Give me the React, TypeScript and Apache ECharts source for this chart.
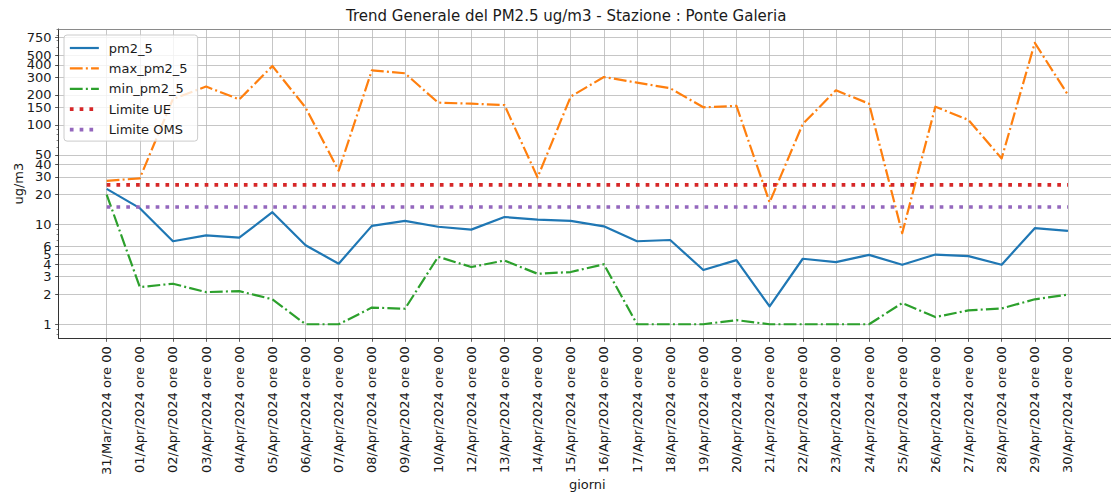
import React, { useEffect, useRef } from "react";
import * as echarts from "echarts";

const days = [
  "31/Mar/2024 ore 00", "01/Apr/2024 ore 00", "02/Apr/2024 ore 00", "03/Apr/2024 ore 00",
  "04/Apr/2024 ore 00", "05/Apr/2024 ore 00", "06/Apr/2024 ore 00", "07/Apr/2024 ore 00",
  "08/Apr/2024 ore 00", "09/Apr/2024 ore 00", "10/Apr/2024 ore 00", "12/Apr/2024 ore 00",
  "13/Apr/2024 ore 00", "14/Apr/2024 ore 00", "15/Apr/2024 ore 00", "16/Apr/2024 ore 00",
  "17/Apr/2024 ore 00", "18/Apr/2024 ore 00", "19/Apr/2024 ore 00", "20/Apr/2024 ore 00",
  "21/Apr/2024 ore 00", "22/Apr/2024 ore 00", "23/Apr/2024 ore 00", "24/Apr/2024 ore 00",
  "25/Apr/2024 ore 00", "26/Apr/2024 ore 00", "27/Apr/2024 ore 00", "28/Apr/2024 ore 00",
  "29/Apr/2024 ore 00", "30/Apr/2024 ore 00",
];

const pm25 = [
  22.8, 14.6, 6.8, 7.8, 7.4, 13.3, 6.2, 4.05, 9.7, 10.9, 9.5,
  8.9, 11.9, 11.2, 10.9, 9.6,
  6.8, 7.0, 3.5, 4.4, 1.51, 4.54, 4.2, 4.97, 3.95, 5.0, 4.82, 3.95, 9.2, 8.65,
];

const maxPm25 = [
  27.4, 29.1, 182, 242, 180, 389, 149, 34.7, 352, 329, 167,
  163, 158, 29.7, 192, 302,
  265, 233, 150, 155, 16.7, 102, 222, 163, 8.2, 152, 112, 46, 665, 200,
];

const minPm25 = [
  20, 2.36, 2.55, 2.1, 2.15, 1.78, 1.0, 1.0, 1.47, 1.43, 4.75,
  3.75, 4.36, 3.21, 3.34, 4.0,
  1.0, 1.0, 1.0, 1.1, 1.0, 1.0, 1.0, 1.0, 1.63, 1.18, 1.38, 1.44, 1.78, 1.98,
];

const limiteUE = [
  25, 25, 25, 25, 25, 25, 25, 25, 25, 25, 25, 25, 25, 25, 25,
  25, 25, 25, 25, 25, 25, 25, 25, 25, 25, 25, 25, 25, 25, 25,
];

const limiteOMS = [
  15, 15, 15, 15, 15, 15, 15, 15, 15, 15, 15, 15, 15, 15, 15,
  15, 15, 15, 15, 15, 15, 15, 15, 15, 15, 15, 15, 15, 15, 15,
];

const yTickValues = [1, 2, 3, 4, 5, 6, 10, 20, 30, 40, 50, 100, 150, 200, 300, 400, 500, 750];
const yMinorTicks = [
  0.8, 0.9, 2, 3, 4, 5, 6, 7, 8, 9, 20, 30, 40, 50, 60, 70, 80, 90,
  200, 300, 400, 500, 600, 700, 800, 900,
];

const Y_MIN = 0.723;
const Y_MAX = 915;
const X_MIN = -1.45;
const X_MAX = 30.45;

const FONT = "DejaVu Sans";
const TXT = "#1a1a1a";
const GRID_C = "#b8b8b8";
const SPINE = "#333333";

export default function App() {
  const ref = useRef<HTMLDivElement>(null);

  useEffect(() => {
    if (!ref.current) return;
    const chart = echarts.init(ref.current, undefined, { renderer: "svg" });

    const lg = (v: number) => Math.log10(v);
    const idx = days.map((_, i) => i);

    const mk = (name: string, data: number[], color: string, width: number, dash: any) => ({
      type: "line",
      name,
      data: data.map((v, i) => [i, v]),
      xAxisIndex: 0,
      yAxisIndex: 0,
      symbol: "none",
      showSymbol: false,
      silent: true,
      lineStyle: { color, width, type: dash, cap: "butt", join: "round" },
      itemStyle: { color },
    });

    const option: any = {
      animation: false,
      backgroundColor: "#ffffff",
      textStyle: { fontFamily: FONT },
      title: {
        text: "Trend Generale del PM2.5 ug/m3 - Stazione : Ponte Galeria",
        left: 346,
        top: 8,
        padding: 0,
        textStyle: { fontFamily: FONT, fontSize: 15, fontWeight: "normal", color: TXT },
      },
      legend: {
        orient: "vertical",
        left: 64,
        top: 35,
        padding: [6.5, 10, 5, 4],
        itemWidth: 29,
        itemHeight: 10,
        itemGap: 7.4,
        backgroundColor: "rgba(255,255,255,0.8)",
        borderColor: "#cccccc",
        borderWidth: 1,
        borderRadius: 3,
        itemStyle: { opacity: 0 },
        lineStyle: { width: "inherit" },
        textStyle: { fontFamily: FONT, fontSize: 13, color: TXT, padding: [0, 0, 0, 5] },
        data: ["pm2_5", "max_pm2_5", "min_pm2_5", "Limite UE", "Limite OMS"],
      },
      grid: {
        left: 58.6,
        top: 29,
        width: 1057.4,
        height: 309.3,
        containLabel: false,
        outerBoundsMode: "none",
      },
      xAxis: [
        {
          type: "value",
          position: "bottom",
          min: X_MIN,
          max: X_MAX,
          name: "giorni",
          nameLocation: "middle",
          nameGap: 140,
          nameMoveOverlap: false,
          nameTextStyle: { fontFamily: FONT, fontSize: 13, color: TXT },
          axisLine: { show: true, onZero: false, lineStyle: { color: SPINE, width: 1 } },
          axisTick: { show: true, inside: false, length: 3.5, customValues: idx, lineStyle: { color: SPINE, width: 0.8 } },
          axisLabel: {
            customValues: idx,
            rotate: 90,
            margin: 8,
            fontFamily: FONT,
            fontSize: 13,
            color: TXT,
            formatter: (v: number) => days[Math.round(v)] ?? "",
          },
          splitLine: { show: true, lineStyle: { color: GRID_C, width: 0.8 } },
        },
        {
          type: "value",
          position: "top",
          min: X_MIN,
          max: X_MAX,
          axisLine: { show: true, onZero: false, lineStyle: { color: "#8a8a8a", width: 1 } },
          axisTick: { show: false },
          axisLabel: { show: false },
          splitLine: { show: false },
        },
      ],
      yAxis: [
        {
          type: "log",
          logBase: 10,
          min: Y_MIN,
          max: Y_MAX,
          show: false,
          axisLine: { onZero: false },
          splitLine: { show: false },
        },
        {
          type: "value",
          position: "left",
          min: lg(Y_MIN),
          max: lg(Y_MAX),
          name: "ug/m3",
          nameLocation: "middle",
          nameGap: 34,
          nameMoveOverlap: false,
          nameTextStyle: { fontFamily: FONT, fontSize: 13, color: TXT },
          axisLine: { show: true, onZero: false, lineStyle: { color: SPINE, width: 1 } },
          axisTick: { show: true, length: 3.5, customValues: yTickValues.map(lg), lineStyle: { color: SPINE, width: 0.8 } },
          axisLabel: {
            customValues: yTickValues.map(lg),
            margin: 7,
            fontFamily: FONT,
            fontSize: 13,
            color: TXT,
            hideOverlap: false,
            formatter: (v: number) => {
              let best = yTickValues[0];
              for (const t of yTickValues) if (Math.abs(lg(t) - v) < Math.abs(lg(best) - v)) best = t;
              return String(best);
            },
          },
          splitLine: { show: true, lineStyle: { color: GRID_C, width: 0.8 } },
        },
        {
          type: "value",
          position: "left",
          min: lg(Y_MIN),
          max: lg(Y_MAX),
          axisLine: { show: false, onZero: false },
          axisTick: { show: true, length: 2, customValues: yMinorTicks.map(lg), lineStyle: { color: SPINE, width: 0.6 } },
          axisLabel: { show: false },
          splitLine: { show: false },
        },
      ],
      series: [
        mk("pm2_5", pm25, "#1f77b4", 2.2, "solid"),
        mk("max_pm2_5", maxPm25, "#ff7f0e", 2.2, [12.8, 3.2, 2, 3.2]),
        mk("min_pm2_5", minPm25, "#2ca02c", 2.2, [12.8, 3.2, 2, 3.2]),
        mk("Limite UE", limiteUE, "#d62728", 3.7, [3.7, 6.1]),
        mk("Limite OMS", limiteOMS, "#9467bd", 3.7, [3.7, 6.1]),
      ],
    };

    chart.setOption(option);
    return () => chart.dispose();
  }, []);

  return (
    <div
      ref={ref}
      style={{ position: "fixed", left: 0, top: 0, width: 1111, height: 496, background: "#fff" }}
    />
  );
}
